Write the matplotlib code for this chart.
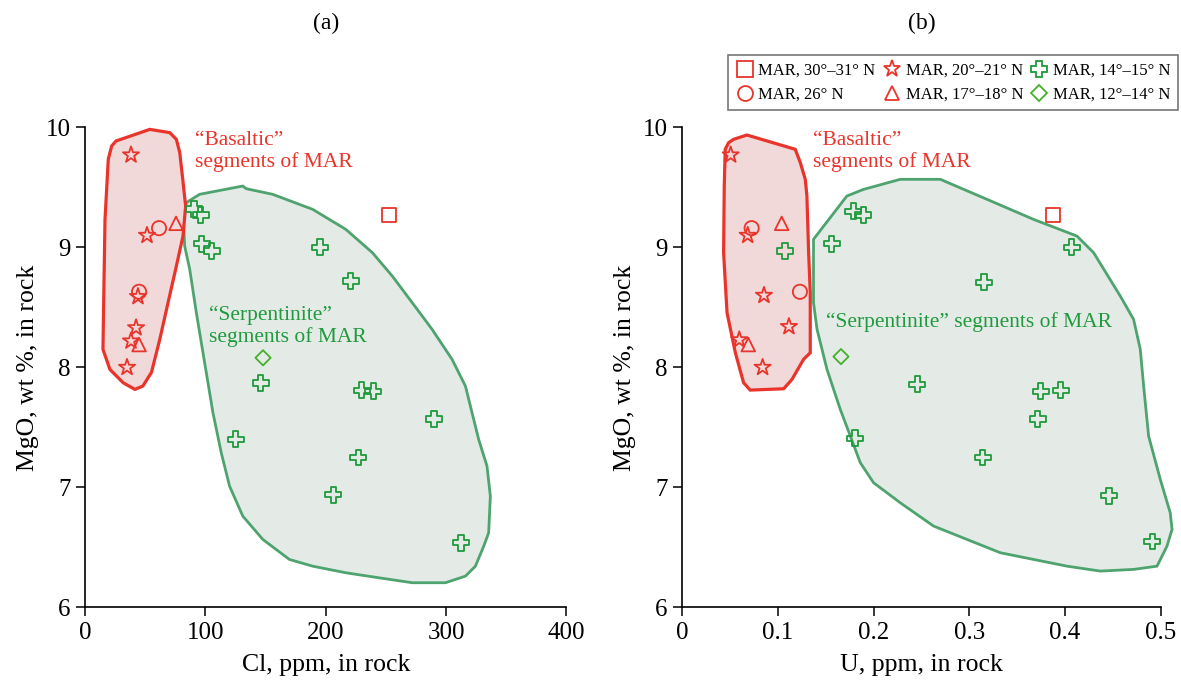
import matplotlib
matplotlib.use("Agg")
import matplotlib.pyplot as plt
from matplotlib.lines import Line2D

plt.rcParams["font.family"] = ["Liberation Serif", "DejaVu Serif"]

# --- data: (a) Cl vs MgO ---
cl_sq_x = [252.6]
cl_sq_y = [9.27]
cl_ci_x = [61.5, 44.9]
cl_ci_y = [9.16, 8.63]
cl_st_x = [38.2, 51.5, 44.0, 42.4, 38.2, 34.9]
cl_st_y = [9.77, 9.10, 8.59, 8.33, 8.22, 8.00]
cl_tr_x = [75.6, 44.9]
cl_tr_y = [9.20, 8.19]
cl_cr_x = [90.6, 96.1, 97.0, 105.3, 195.3, 220.8, 146.0, 229.9, 239.6, 290.0,
           125.2, 227.1, 206.3, 312.4]
cl_cr_y = [9.32, 9.27, 9.03, 8.97, 9.00, 8.72, 7.87, 7.81, 7.80, 7.57,
           7.40, 7.25, 6.94, 6.54]
cl_di_x = [147.9]
cl_di_y = [8.08]

# --- data: (b) U vs MgO ---
u_sq_x = [0.3875]
u_sq_y = [9.27]
u_ci_x = [0.0725, 0.1230]
u_ci_y = [9.16, 8.63]
u_st_x = [0.0506, 0.0684, 0.0854, 0.1115, 0.0596, 0.0840]
u_st_y = [9.77, 9.10, 8.60, 8.34, 8.23, 8.00]
u_tr_x = [0.1039, 0.0690]
u_tr_y = [9.20, 8.19]
u_cr_x = [0.1074, 0.1788, 0.1892, 0.1562, 0.4071, 0.3154, 0.2457, 0.3747,
          0.3956, 0.3715, 0.1805, 0.3140, 0.4461, 0.4913]
u_cr_y = [8.97, 9.30, 9.27, 9.03, 9.00, 8.71, 7.86, 7.80,
          7.81, 7.57, 7.41, 7.25, 6.93, 6.55]
u_di_x = [0.1659]
u_di_y = [8.09]

# field outlines (hand-drawn in the original)
cl_basalt_x = [25.7, 53.8, 70.4, 75.9, 78.7, 81.2, 83.6, 81.4, 75.9, 69.0, 62.1,
               55.2, 48.0, 41.4, 31.7, 20.7, 14.9, 15.7, 16.6, 19.3, 22.1]
cl_basalt_y = [9.886, 9.983, 9.956, 9.90, 9.79, 9.567, 9.344, 9.094, 8.844, 8.54,
               8.233, 7.958, 7.844, 7.817, 7.872, 7.983, 8.15, 8.678, 9.233,
               9.733, 9.844]
cl_serp_x = [84.2, 95.2, 131.1, 133.9, 155.9, 189.1, 216.7, 238.8, 255.3, 271.9,
             288.4, 305.0, 316.1, 321.6, 327.1, 334.0, 336.8, 335.4, 331.3, 324.4,
             316.1, 299.5, 271.9, 244.3, 216.7, 189.1, 169.8, 147.7, 131.1, 120.1,
             113.2, 106.3, 99.4, 92.5, 87.0, 82.8, 81.4]
cl_serp_y = [9.373, 9.442, 9.511, 9.489, 9.442, 9.317, 9.15, 8.956, 8.761, 8.539,
             8.317, 8.067, 7.844, 7.622, 7.40, 7.178, 6.928, 6.622, 6.511, 6.344,
             6.261, 6.206, 6.206, 6.247, 6.289, 6.344, 6.40, 6.567, 6.761, 7.011,
             7.289, 7.622, 8.039, 8.456, 8.817, 9.011, 9.289]
u_basalt_x = [0.0536, 0.0676, 0.1181, 0.1234, 0.1286, 0.1303, 0.1321, 0.1338,
              0.1338, 0.1268, 0.1147, 0.1060, 0.0710, 0.0641, 0.0555, 0.0468,
              0.0432, 0.0439, 0.0449, 0.0484]
u_basalt_y = [9.90, 9.936, 9.817, 9.706, 9.567, 9.428, 8.956, 8.622, 8.122, 8.067,
              7.90, 7.822, 7.811, 7.872, 8.122, 8.456, 8.956, 9.511, 9.817, 9.872]
u_serp_x = [0.1372, 0.1721, 0.1895, 0.2279, 0.2697, 0.3186, 0.3673, 0.4126,
            0.4300, 0.4579, 0.4718, 0.4788, 0.4823, 0.4875, 0.4997, 0.5101,
            0.5120, 0.5067, 0.4963, 0.4718, 0.4370, 0.4022, 0.3673, 0.3324,
            0.2976, 0.2627, 0.2279, 0.2000, 0.1861, 0.1757, 0.1652, 0.1513,
            0.1409, 0.1372]
u_serp_y = [9.067, 9.428, 9.483, 9.567, 9.567, 9.40, 9.233, 9.094, 8.956, 8.594,
            8.40, 8.15, 7.844, 7.428, 7.067, 6.789, 6.65, 6.511, 6.344, 6.317,
            6.303, 6.344, 6.40, 6.456, 6.567, 6.678, 6.872, 7.039, 7.206, 7.428,
            7.65, 7.983, 8.317, 8.539]

labels = ["MAR, 30°–31° N", "MAR, 26° N", "MAR, 20°–21° N",
          "MAR, 17°–18° N", "MAR, 14°–15° N", "MAR, 12°–14° N"]

RED = "#e8342b"
GREEN = "#1f9a3c"
LGREEN = "#45b02a"
FIELD_GREEN = "#4ea36f"

STYLE = {
    "sq": dict(marker="s", s=115, edgecolors=RED),
    "ci": dict(marker="o", s=105, edgecolors=RED),
    "st": dict(marker="*", s=150, edgecolors=RED),
    "tr": dict(marker="^", s=95, edgecolors=RED),
    "cr": dict(marker="P", s=130, edgecolors=GREEN),
    "di": dict(marker="D", s=60, edgecolors=LGREEN),
}


def draw_panel(ax, pts, basalt, serp, xlim, xticks, xticklabels, xlabel, title):
    ax.fill(serp[0], serp[1], facecolor="#e4ebe7", edgecolor=FIELD_GREEN,
            linewidth=2.0, zorder=1, clip_on=False)
    ax.fill(basalt[0], basalt[1], facecolor="#f2d9d9", edgecolor=RED,
            linewidth=2.3, zorder=2, clip_on=False)
    for key in ["sq", "ci", "st", "tr", "cr", "di"]:
        x, y = pts[key]
        ax.scatter(x, y, facecolors="none", linewidths=1.3, zorder=3,
                   clip_on=False, **STYLE[key])
    ax.set_xlim(*xlim)
    ax.set_ylim(6, 10)
    ax.set_xticks(xticks)
    ax.set_xticklabels(xticklabels)
    ax.set_yticks([6, 7, 8, 9, 10])
    ax.spines["top"].set_visible(False)
    ax.spines["right"].set_visible(False)
    for s in ["left", "bottom"]:
        ax.spines[s].set_linewidth(1.2)
    ax.tick_params(direction="out", length=6.5, width=1.1, labelsize=18, pad=4)
    ax.set_xlabel(xlabel, fontsize=18.5, labelpad=7)
    ax.set_ylabel("MgO, wt %, in rock", fontsize=18.5, labelpad=5)
    ax.set_title(title, fontsize=17, pad=71)


fig = plt.figure(figsize=(11.81, 6.81), dpi=100)
ax1 = fig.add_axes([0.072, 0.108, 0.4076, 0.705])
ax2 = fig.add_axes([0.5777, 0.108, 0.405, 0.705])

draw_panel(ax1,
           {"sq": (cl_sq_x, cl_sq_y), "ci": (cl_ci_x, cl_ci_y),
            "st": (cl_st_x, cl_st_y), "tr": (cl_tr_x, cl_tr_y),
            "cr": (cl_cr_x, cl_cr_y), "di": (cl_di_x, cl_di_y)},
           (cl_basalt_x, cl_basalt_y), (cl_serp_x, cl_serp_y),
           (0, 400), [0, 100, 200, 300, 400], ["0", "100", "200", "300", "400"],
           "Cl, ppm, in rock", "(a)")
draw_panel(ax2,
           {"sq": (u_sq_x, u_sq_y), "ci": (u_ci_x, u_ci_y),
            "st": (u_st_x, u_st_y), "tr": (u_tr_x, u_tr_y),
            "cr": (u_cr_x, u_cr_y), "di": (u_di_x, u_di_y)},
           (u_basalt_x, u_basalt_y), (u_serp_x, u_serp_y),
           (0, 0.5), [0, 0.1, 0.2, 0.3, 0.4, 0.5],
           ["0", "0.1", "0.2", "0.3", "0.4", "0.5"],
           "U, ppm, in rock", "(b)")

# field captions
ax1.text(91.4, 9.80, "“Basaltic”\nsegments of MAR", color=RED, fontsize=15.5,
         ha="left", va="center", linespacing=1.15)
ax1.text(103, 8.34, "“Serpentinite”\nsegments of MAR", color=GREEN,
         fontsize=15.5, ha="left", va="center", linespacing=1.15)
ax2.text(0.1366, 9.80, "“Basaltic”\nsegments of MAR", color=RED, fontsize=15.5,
         ha="left", va="center", linespacing=1.15)
ax2.text(0.150, 8.38, "“Serpentinite” segments of MAR", color=GREEN,
         fontsize=15.5, ha="left", va="center")

# legend
handles = []
for key, lab in zip(["sq", "ci", "st", "tr", "cr", "di"], labels):
    st = STYLE[key]
    handles.append(Line2D([], [], linestyle="none", marker=st["marker"],
                          markersize=(st["s"] ** 0.5) * 1.05,
                          markerfacecolor="none", markeredgecolor=st["edgecolors"],
                          markeredgewidth=1.3, label=lab))
leg = fig.legend(handles=handles, ncol=3, loc="upper right",
                 bbox_to_anchor=(0.9975, 0.919), borderaxespad=0,
                 fontsize=12, frameon=True, fancybox=False, edgecolor="#555555",
                 handletextpad=0.25, columnspacing=0.4, borderpad=0.45,
                 labelspacing=0.5, handlelength=1.15)
leg.get_frame().set_linewidth(1.2)

fig.savefig("out.png", dpi=100)
